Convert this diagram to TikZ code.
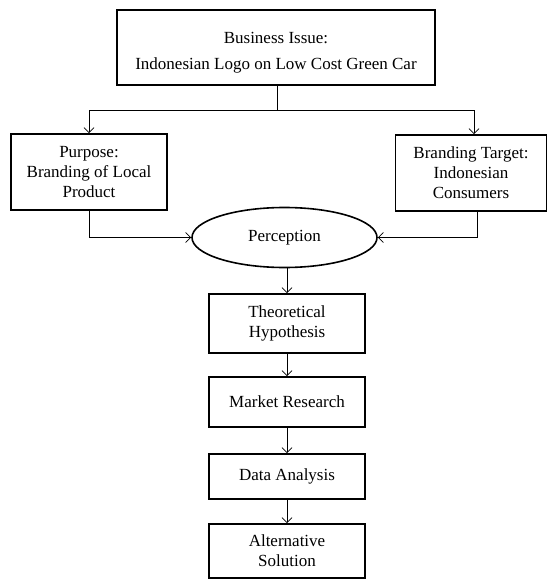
\documentclass[tikz,border=0pt]{standalone}
\usepackage{fontspec}
\setmainfont{Liberation Serif}
\usetikzlibrary{shapes.geometric,arrows.meta}
\begin{document}
\begin{tikzpicture}[x=1pt,y=-1pt,
  box/.style={draw,line width=1.6pt,rectangle,inner sep=0pt,align=center,font=\fontsize{17}{20}\selectfont},
  oval/.style={draw,line width=1.6pt,ellipse,inner sep=0pt,font=\fontsize{17}{20}\selectfont},
  conn/.style={line width=0.8pt,-{Straight Barb[length=5pt,width=10pt]}},
  line/.style={line width=0.8pt}]
\useasboundingbox (0,0) rectangle (548,580);
\node[box,minimum width=318pt,minimum height=75pt] (top) at (276,47.5) {\rule{0pt}{22pt}Business Issue:\\[6pt]Indonesian Logo on Low Cost Green Car};
\node[box,minimum width=156pt,minimum height=76pt] (left) at (89,172) {Purpose:\\Branding of Local\\Product};
\node[box,minimum width=151pt,minimum height=76pt] (right) at (471,173) {Branding Target:\\Indonesian\\Consumers};
\node[oval,minimum width=185pt,minimum height=60pt] (perc) at (284.5,237.5) {Perception};
\node[box,minimum width=156pt,minimum height=59pt] (th) at (287,323.5) {Theoretical\\Hypothesis};
\node[box,minimum width=156pt,minimum height=50pt] (mr) at (287,402) {Market Research};
\node[box,minimum width=156pt,minimum height=45pt] (da) at (287,476.5) {Data Analysis};
\node[box,minimum width=156pt,minimum height=54pt] (as) at (287,551) {Alternative\\Solution};
\coordinate (split) at (277,110);
\coordinate (rin) at (474,0);
\coordinate (rout) at (477,0);
\draw[line] (top.south -| split) -- (split);
\draw[conn] (split) -| (left.north);
\draw[conn] (split) -| (right.north -| rin);
\draw[conn] (left.south) |- (perc.west);
\draw[conn] (right.south -| rout) |- (perc.east);
\draw[conn] (perc.south -| th.north) -- (th.north);
\draw[conn] (th) -- (mr);
\draw[conn] (mr) -- (da);
\draw[conn] (da) -- (as);
\end{tikzpicture}
\end{document}
